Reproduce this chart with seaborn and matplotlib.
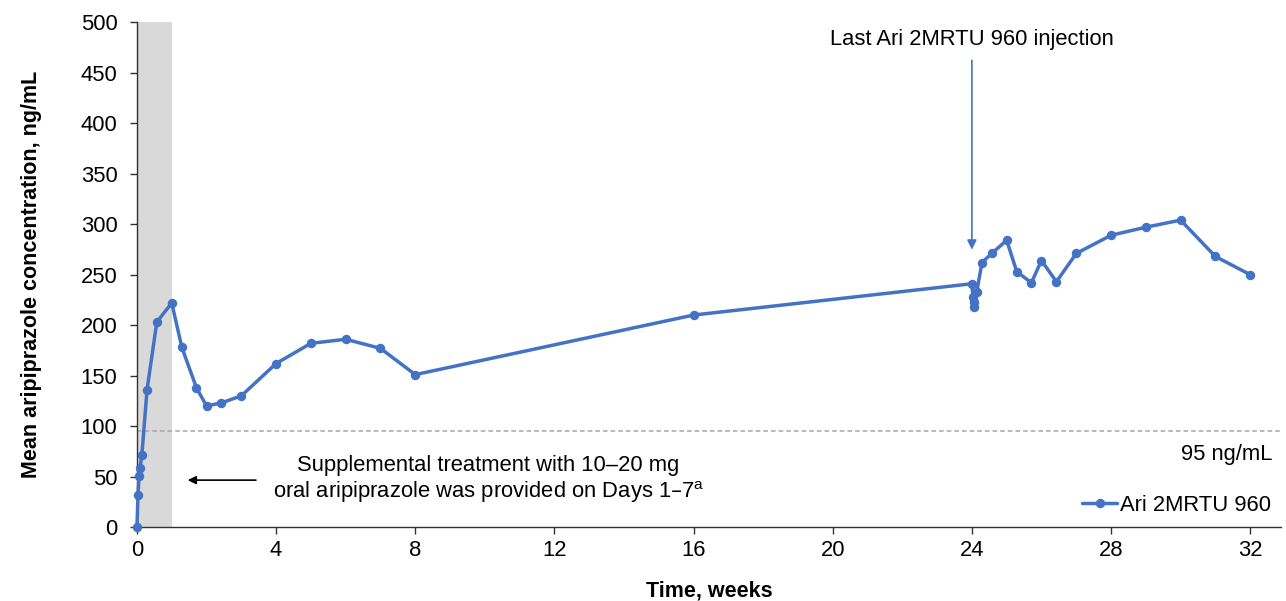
import numpy as np
import pandas as pd
import matplotlib
matplotlib.use("Agg")
import matplotlib.pyplot as plt
import seaborn as sns

# ── Data ────────────────────────────────────────────────────────────────────
weeks = [0, 0.03, 0.06, 0.09, 0.14, 0.29, 0.57, 1.0, 1.29, 1.71, 2.0, 2.43,
         3.0, 4, 5, 6, 7, 8, 16, 24.0, 24.03, 24.05, 24.07, 24.14, 24.29,
         24.57, 25.0, 25.29, 25.71, 26.0, 26.43, 27, 28, 29, 30, 31, 32]
conc = [0, 32, 51, 59, 71, 136, 203, 222, 178, 138, 120, 123,
        130, 162, 182, 186, 177, 151, 210, 241, 228, 218, 223, 233, 262,
        271, 284, 253, 242, 264, 243, 271, 289, 297, 304, 268, 250]
series_name = "Ari 2MRTU 960"
threshold = 95
x_ticks = [0, 4, 8, 12, 16, 20, 24, 28, 32]
y_ticks = [0, 50, 100, 150, 200, 250, 300, 350, 400, 450, 500]

df = pd.DataFrame({"Time, weeks": weeks, "conc": conc, "group": series_name})

sns.set_theme(style="white")
plt.rcParams["font.family"] = ["Liberation Sans", "DejaVu Sans"]
plt.rcParams["text.color"] = "black"
plt.rcParams["axes.labelcolor"] = "black"
plt.rcParams["xtick.color"] = "black"
plt.rcParams["ytick.color"] = "black"

blue = "#4472C4"
fs = 15.8

fig, ax = plt.subplots(figsize=(12.86, 6.01), dpi=100)
fig.subplots_adjust(left=0.1065, right=0.9965, bottom=0.123, top=0.963)

# supplemental oral dosing window
ax.axvspan(0, 1.0, color="#D9D9D9", zorder=0, lw=0)

# threshold line
ax.axhline(threshold, color="#A6A6A6", ls=(0, (3, 2)), lw=1.1, zorder=1)

sns.lineplot(data=df, x="Time, weeks", y="conc", hue="group", palette=[blue],
             estimator=None, sort=False, marker="o", markersize=6.8,
             markeredgewidth=0, linewidth=2.5, ax=ax, clip_on=False, zorder=3)

ax.set_xlim(0, 32.9)
ax.set_ylim(0, 500)
ax.set_xticks(x_ticks)
ax.set_yticks(y_ticks)
ax.tick_params(axis="both", labelsize=fs, length=5, width=1, color="#333333",
               direction="out", bottom=True, left=True)
ax.tick_params(axis="y", pad=9)
ax.tick_params(axis="x", pad=4)
ax.set_xlabel("Time, weeks", fontsize=15.5, fontweight="bold", labelpad=14)
ax.set_ylabel("Mean aripiprazole concentration, ng/mL", fontsize=15.5,
              fontweight="bold", labelpad=28)

sns.despine(ax=ax)
for side in ["left", "bottom"]:
    ax.spines[side].set_color("#333333")
    ax.spines[side].set_linewidth(1)

# annotations
ax.text(32.63, 72, "95 ng/mL", ha="right", va="center", fontsize=fs)

ax.annotate("", xy=(1.38, 46.5), xytext=(3.5, 46.5),
            arrowprops=dict(arrowstyle="-|>", color="black", lw=1.2,
                            mutation_scale=12))
ax.text(10.1, 47, "Supplemental treatment with 10\u201320 mg\n"
        "oral aripiprazole was provided on Days 1\u20137$_{\\mathregular{}}^{\\mathregular{a}}$",
        ha="center", va="center", fontsize=fs, linespacing=1.2)

ax.annotate("", xy=(24.0, 272), xytext=(24.0, 465),
            arrowprops=dict(arrowstyle="-|>", color=blue, lw=1.2,
                            mutation_scale=14))
ax.text(24.0, 483, "Last Ari 2MRTU 960 injection", ha="center", va="center",
        fontsize=fs)

leg = ax.legend(loc="lower right", frameon=False, fontsize=fs,
                handlelength=1.6, handletextpad=0.1, borderaxespad=0.1,
                bbox_to_anchor=(1.0, 0.0))
for h in leg.legend_handles:
    h.set_linewidth(2.5)

fig.savefig("out.png", dpi=100)
